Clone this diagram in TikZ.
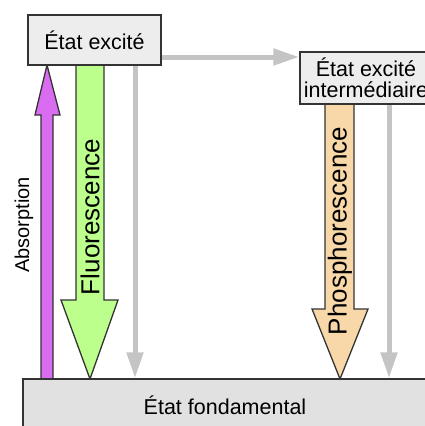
\documentclass[tikz,border=0pt]{standalone}
\usepackage{fontspec}
\setmainfont{Liberation Sans}
\usepackage{xcolor}
\usepackage{tikz}
\usetikzlibrary{arrows.meta}

\definecolor{bordure}{HTML}{333333}
\definecolor{fondbox}{HTML}{EDEDED}
\definecolor{violetabs}{HTML}{D96CF0}
\definecolor{vertfluo}{HTML}{BDFF8C}
\definecolor{orangephos}{HTML}{F8D8A8}
\definecolor{grisfleche}{HTML}{C4C4C4}

\begin{document}
\begin{tikzpicture}[x=1pt, y=-1pt,
    etat/.style={rectangle, draw=bordure, line width=1.5pt, fill=fondbox, text=black, inner sep=0pt,
        font=\fontsize{21.5}{21}\selectfont},
    bloc/.style={draw=bordure, line width=1.3pt, line join=miter},
    gris/.style={draw=grisfleche, line width=5pt, -{Triangle[width=16pt,length=26pt]}},
    etiquette/.style={rotate=90, text=black, inner sep=0pt}]
\useasboundingbox (0,0) rectangle (425,426);

% fleches larges
\draw[bloc, fill=violetabs] (41,379) -- (41,115) -- (35,115) -- (47,65) -- (60,115) -- (53,115) -- (53,379);
\draw[bloc, fill=vertfluo] (76,65) -- (76,300) -- (61,300) -- (90,379) -- (118,300) -- (104,300) -- (104,65);
\draw[bloc, fill=orangephos] (325,104) -- (325,309) -- (312,309) -- (340,379) -- (368,309) -- (354,309) -- (354,104);

\node[etat, minimum width=133pt, minimum height=50pt] (excite) at (94.5,40) {État excité};
\node[etat, minimum width=132pt, minimum height=52pt, align=center] (inter) at (366,78) {État excité\\intermédiaire};
\node[etat, minimum width=404pt, minimum height=53pt, fill=fondbox!95!black] (fond) at (225,405.5) {État fondamental};

\node[etiquette, font=\fontsize{20}{20}\selectfont] (labAbs) at (24,225) {Absorption};
\node[etiquette, font=\fontsize{26}{26}\selectfont] (labFluo) at (90,217) {Fluorescence};
\node[etiquette, font=\fontsize{26}{26}\selectfont] (labPhos) at (340,231) {Phosphorescence};

% transitions non radiatives
\draw[gris] ([yshift=-17pt]excite.east) -- ([yshift=-17pt]excite.east -| inter.west);
\draw[gris] ([xshift=40.5pt]excite.south) -- ([xshift=40.5pt]excite.south |- fond.north);
\draw[gris] ([xshift=23pt]inter.south) -- ([xshift=23pt]inter.south |- fond.north);

\end{tikzpicture}
\end{document}
